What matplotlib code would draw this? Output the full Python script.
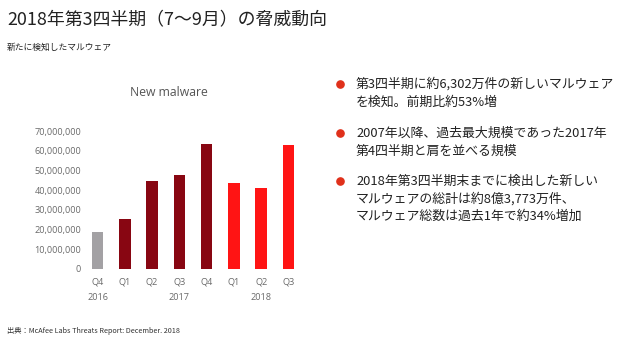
import matplotlib
matplotlib.use("Agg")
import matplotlib.pyplot as plt
from matplotlib.lines import Line2D
from matplotlib.ticker import FuncFormatter

# ---- data ----
quarters = ["Q4", "Q1", "Q2", "Q3", "Q4", "Q1", "Q2", "Q3"]
years = ["2016", "2017", "2018"]
year_label_index = [0, 3, 6]
new_malware = [19000000, 25400000, 44800000, 47900000, 63500000, 43700000, 41100000, 63020000]
period_group = ["2016", "2017", "2017", "2017", "2017", "2018", "2018", "2018"]
group_colors = {"2016": "#a3a1a4", "2017": "#880612", "2018": "#ff1414"}
yticks = [0, 10000000, 20000000, 30000000, 40000000, 50000000, 60000000, 70000000]

title = "2018年第3四半期（7〜9月）の脅威動向"
subtitle = "新たに検知したマルウェア"
chart_title = "New malware"
bullets = [
    ["第3四半期に約6,302万件の新しいマルウェア", "を検知。前期比約53%増"],
    ["2007年以降、過去最大規模であった2017年", "第4四半期と肩を並べる規模"],
    ["2018年第3四半期末までに検出した新しい", "マルウェアの総計は約8億3,773万件、",
     "マルウェア総数は過去1年で約34%増加"],
]
source = "出典：McAfee Labs Threats Report: December. 2018"

W, H = 620, 338
JP = ["Noto Sans CJK JP", "DejaVu Sans"]
LAT = ["Open Sans", "DejaVu Sans"]
plt.rcParams["font.family"] = JP

fig = plt.figure(figsize=(W / 100, H / 100), dpi=100)
fig.patch.set_facecolor("white")


def fx(px):
    return px / W


def fy(py):
    return 1 - py / H


# chart axes
ax = fig.add_axes([fx(84), fy(269), fx(302) - fx(84), fy(131) - fy(269)])
x = list(range(len(quarters)))
ax.bar(x, new_malware, width=0.42, color=[group_colors[g] for g in period_group])
ax.set_xlim(-0.5, len(quarters) - 0.5)
ax.set_ylim(0, 70000000)
ax.set_yticks(yticks)
ax.yaxis.set_major_formatter(FuncFormatter(lambda v, p: f"{int(v):,}"))
ax.set_xticks(x)
ax.set_xticklabels(quarters)
for s in ax.spines.values():
    s.set_visible(False)
ax.tick_params(length=0, colors="#6a6a6a", labelsize=6.6)
ax.tick_params(axis="y", pad=2)
ax.tick_params(axis="x", pad=6)
for lab in ax.get_xticklabels() + ax.get_yticklabels():
    lab.set_family(LAT)
for yl, idx in zip(years, year_label_index):
    ax.text(idx, -0.205, yl, transform=ax.get_xaxis_transform(), ha="center", va="center",
            fontsize=6.6, color="#6a6a6a", family=LAT)

fig.text(fx(169), fy(93), chart_title, ha="center", va="center", fontsize=8.8,
         color="#555555", family=LAT)

# titles
fig.text(fx(7), fy(20), title, ha="left", va="center", fontsize=12.9, color="#222222")
fig.text(fx(7), fy(47), subtitle, ha="left", va="center", fontsize=6.3, color="#222222")
fig.text(fx(7), fy(331), source, ha="left", va="center", fontsize=5.2, color="#333333")

# bullets
starts = [84, 133, 181]
line_h = [18, 18, 17.5]
for lines, y0, lh in zip(bullets, starts, line_h):
    fig.add_artist(Line2D([fx(340)], [fy(y0)], marker="o", markersize=5.2,
                          color="#e0301a", transform=fig.transFigure))
    for i, t in enumerate(lines):
        fig.text(fx(356), fy(y0 + i * lh), t, ha="left", va="center", fontsize=9.3,
                 color="#222222")

fig.savefig("out.png", dpi=100)
